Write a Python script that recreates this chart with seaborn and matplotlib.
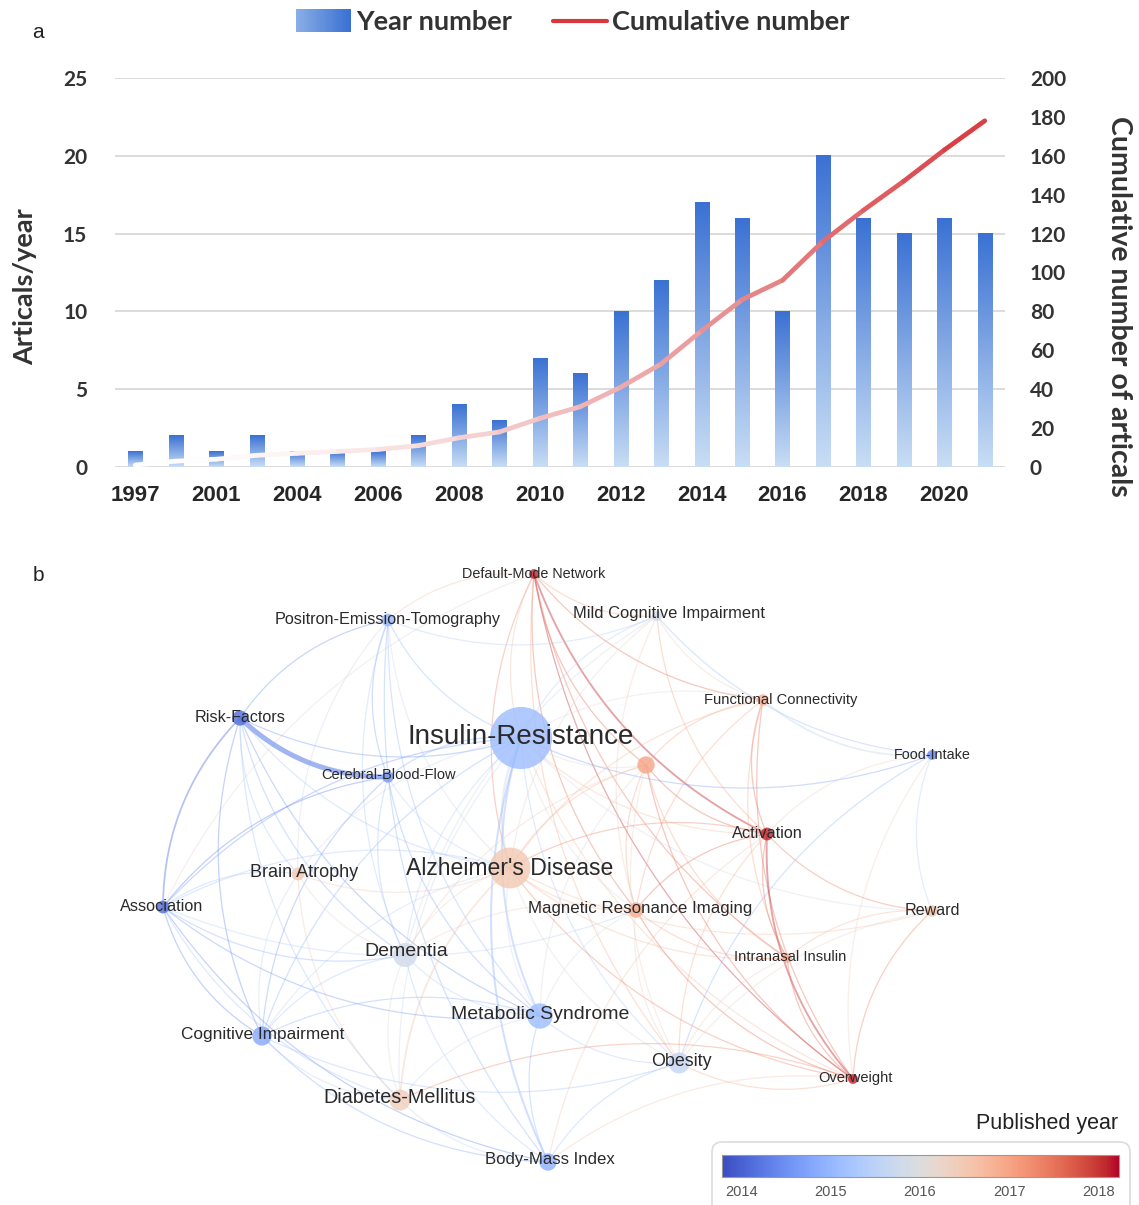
import numpy as np
import pandas as pd
import matplotlib
matplotlib.use("Agg")
import matplotlib.pyplot as plt
import seaborn as sns
from matplotlib.collections import LineCollection
from matplotlib.colors import LinearSegmentedColormap, Normalize, to_rgb
from matplotlib.legend_handler import HandlerBase
from matplotlib.lines import Line2D
from matplotlib.patches import Rectangle, FancyBboxPatch
import matplotlib.cm as cm

# ---------------- panel a: publications per year ----------------
years = ["1997", "1999", "2001", "2003", "2004", "2005", "2006", "2007", "2008",
         "2009", "2010", "2011", "2012", "2013", "2014", "2015", "2016", "2017",
         "2018", "2019", "2020", "2021"]
articles_per_year = [1, 2, 1, 2, 1, 1, 1, 2, 4, 3, 7, 6, 10, 12, 17, 16, 10, 20,
                     16, 15, 16, 15]
cumulative_articles = [1, 3, 4, 6, 7, 8, 9, 11, 15, 18, 25, 31, 41, 53, 70, 86,
                       96, 116, 132, 147, 163, 178]
left_ticks = [0, 5, 10, 15, 20, 25]
right_ticks = [0, 20, 40, 60, 80, 100, 120, 140, 160, 180, 200]

# ---------------- panel b: keyword co-occurrence network ----------------
keywords = ["Default-Mode Network", "Positron-Emission-Tomography",
            "Mild Cognitive Impairment", "Functional Connectivity", "Risk-Factors",
            "Insulin-Resistance", "", "Food-Intake", "Cerebral-Blood-Flow",
            "Activation", "Brain Atrophy", "Alzheimer's Disease", "Association",
            "Magnetic Resonance Imaging", "Reward", "Dementia", "Intranasal Insulin",
            "Metabolic Syndrome", "Cognitive Impairment", "Obesity", "Overweight",
            "Diabetes-Mellitus", "Body-Mass Index"]
layout_x = [534, 388, 657, 763, 240, 521, 646, 932, 388, 767, 298, 510, 163, 636,
            932, 405, 787, 540, 262, 679, 853, 400, 548]
layout_y = [574, 620, 616, 700, 718, 738, 765, 755, 777, 834, 874, 868, 907, 910,
            911, 955, 958, 1016, 1036, 1063, 1079, 1100, 1162]
avg_pub_year = [2018.1, 2015.0, 2015.8, 2016.9, 2014.1, 2015.1, 2017.0, 2014.4,
                2014.6, 2018.1, 2016.5, 2016.5, 2014.1, 2016.9, 2016.6, 2015.8,
                2016.9, 2015.1, 2014.8, 2015.6, 2018.1, 2016.4, 2014.9]
occurrences = [5, 6, 5, 5.5, 7, 60, 8, 5, 5.5, 6, 6, 28, 6, 7, 5.5, 12, 5, 13, 9,
               10, 5, 10, 8]
label_size = [10.4, 11.7, 11.9, 10.6, 11.6, 20.0, 10, 10.4, 10.5, 11.7, 13.0, 16.6,
              11.7, 12.2, 11.6, 14.0, 10.6, 14.0, 12.4, 12.9, 10.5, 14.2, 12.1]
label_dx = [0, 0, 12, 18, 0, 0, 0, 0, 1, 0, 6, 0, -1, 4, 0, 1, 3, 0, 1, 2, 2, 0, 2]
label_dy = [0, 0, -2, 0, 0, -1, 0, 0, -2, 0, -1, 1, 0, -1, 0, -3, -1, -1, -1, -1, -1, -2, -2]

edges = [
    (0, 9), (0, 3), (0, 11), (0, 13), (0, 20), (0, 16), (0, 5), (0, 1), (0, 2),
    (0, 6), (0, 19), (0, 12),
    (1, 5), (1, 8), (1, 15), (1, 11), (1, 17), (1, 4), (1, 10), (1, 2), (1, 22),
    (2, 5), (2, 11), (2, 7), (2, 3), (2, 13), (2, 15), (2, 9),
    (3, 7), (3, 9), (3, 6), (3, 5), (3, 13), (3, 11), (3, 16), (3, 20),
    (4, 8), (4, 12), (4, 5), (4, 15), (4, 18), (4, 17), (4, 11), (4, 21), (4, 10),
    (5, 11), (5, 17), (5, 22), (5, 15), (5, 12), (5, 18), (5, 19), (5, 6), (5, 9),
    (5, 13), (5, 8), (5, 21), (5, 20), (5, 14), (5, 10), (5, 7),
    (6, 11), (6, 13), (6, 9), (6, 16), (6, 19), (6, 20), (6, 15), (6, 17),
    (7, 14), (7, 20), (7, 19), (7, 9),
    (8, 11), (8, 15), (8, 12), (8, 17), (8, 18),
    (9, 11), (9, 14), (9, 20), (9, 19), (9, 16), (9, 13), (9, 22),
    (10, 11), (10, 15), (10, 12), (10, 18), (10, 21),
    (11, 13), (11, 15), (11, 17), (11, 21), (11, 18), (11, 19), (11, 16), (11, 12),
    (11, 20), (11, 14),
    (12, 18), (12, 15), (12, 17), (12, 22), (12, 21), (12, 13),
    (13, 16), (13, 19), (13, 20), (13, 15), (13, 17),
    (14, 20), (14, 16), (14, 19),
    (15, 18), (15, 21), (15, 17), (15, 22),
    (16, 20), (16, 19),
    (17, 22), (17, 19), (17, 18), (17, 21),
    (18, 21), (18, 22), (18, 19),
    (19, 20), (19, 22),
    (20, 22), (20, 21),
    (21, 22),
]
edge_strength = {(4, 8): 4.0, (5, 11): 1.8, (5, 17): 1.6, (5, 22): 1.6, (0, 9): 1.5,
                 (9, 20): 1.5, (4, 12): 1.4, (3, 7): 1.4, (11, 21): 1.5}

year_norm = Normalize(vmin=2013.78, vmax=2018.23)
year_cmap = plt.get_cmap("coolwarm")

# ---------------- figure ----------------
sns.set_theme(style="white")
plt.rcParams["font.family"] = ["Liberation Sans", "DejaVu Sans"]
W, H = 1139, 1205
fig = plt.figure(figsize=(W / 100, H / 100), dpi=100)

bold_font = {"family": ["Lato", "DejaVu Sans"], "weight": "bold"}

ax = fig.add_axes([115 / W, 1 - 467 / H, 890 / W, 389 / H])
trend = pd.DataFrame({"year": years, "articles": articles_per_year})
sns.barplot(data=trend, x="year", y="articles", ax=ax, width=0.35,
            color="#4a80d8", saturation=1)

bar_cmap = LinearSegmentedColormap.from_list("bar_fade", ["#c9def5", "#3a71d3"])
gradient = np.linspace(0, 1, 256).reshape(-1, 1)
for patch in list(ax.patches):
    x0, w, h = patch.get_x(), patch.get_width(), patch.get_height()
    ax.imshow(gradient, extent=[x0, x0 + w, 0, h], origin="lower", aspect="auto",
              cmap=bar_cmap, zorder=2, interpolation="bilinear")
    patch.set_visible(False)

ax.set_xlim(-0.5, len(years) - 0.5)
ax.set_ylim(0, 25)
ax.set_yticks(left_ticks)
ax.set_yticklabels([str(t) for t in left_ticks], fontdict=bold_font, fontsize=15,
                   color="#333333")
ax.set_xticks(range(len(years)))
ax.set_xticklabels([y if i % 2 == 0 else "" for i, y in enumerate(years)],
                   fontsize=16, fontweight="bold", color="#262626")
ax.tick_params(axis="x", length=0, pad=13)
ax.tick_params(axis="y", length=0, pad=20)
ax.yaxis.grid(True, color="#d9d9d9", lw=1.3)
ax.xaxis.grid(False)
ax.set_axisbelow(True)
for s in ax.spines.values():
    s.set_visible(False)
ax.set_xlabel("")
ax.set_ylabel("Articals/year", fontdict=bold_font, fontsize=19.5, color="#333333",
              va="center")
ax.yaxis.set_label_coords((25 - 115) / 890, (467 - 287) / 389)

ax2 = ax.twinx()
ax2.set_ylim(0, 200)
ax2.set_yticks(right_ticks)
ax2.set_yticklabels([str(t) for t in right_ticks], fontdict=bold_font, fontsize=15,
                    color="#333333")
ax2.tick_params(axis="y", length=0, pad=18)
ax2.grid(False)
for s in ax2.spines.values():
    s.set_visible(False)
ax2.set_ylabel("Cumulative number of articals", fontdict=bold_font, fontsize=20.5,
               color="#333333", rotation=270, va="center")
ax2.yaxis.set_label_coords((1119 - 115) / 890, (467 - 306) / 389)

xs = np.arange(len(years))
pts = np.column_stack([xs, cumulative_articles]).reshape(-1, 1, 2)
segs = np.concatenate([pts[:-1], pts[1:]], axis=1)
line_red = np.array(to_rgb("#d6383d"))
seg_colors = []
for k in range(len(segs)):
    f = ((k + 0.5) / len(segs)) ** 1.6
    seg_colors.append((1 - f) * np.ones(3) + f * line_red)
trend_line = LineCollection(segs, colors=seg_colors, linewidths=3.4,
                            capstyle="round", joinstyle="round", zorder=3)
ax2.add_collection(trend_line)


class GradientPatchHandler(HandlerBase):
    def create_artists(self, legend, orig_handle, xdescent, ydescent, width,
                       height, fontsize, trans):
        n = 30
        pieces = []
        for k in range(n):
            c = bar_cmap(0.45 + 0.55 * k / (n - 1))
            pieces.append(Rectangle((-xdescent + width * k / n, -ydescent - height * 0.1),
                                    width / n * 1.1, height * 1.2, facecolor=c,
                                    edgecolor="none", transform=trans))
        return pieces


bar_handle = Rectangle((0, 0), 1, 1)
line_handle = Line2D([0], [0], color="#d6383d", lw=3)
fig.legend([bar_handle, line_handle], ["Year number", "Cumulative number"],
           handler_map={bar_handle: GradientPatchHandler()},
           loc="center", bbox_to_anchor=(573 / W, 1 - 22 / H), ncol=2,
           frameon=False, prop={"family": ["Lato", "DejaVu Sans"], "weight": "bold",
                                "size": 19.5},
           handlelength=2.0, handletextpad=0.2, columnspacing=1.5)
for t in fig.legends[0].get_texts():
    t.set_color("#333333")

fig.text(38 / W, 1 - 33 / H, "a", fontsize=15, ha="center", va="center", color="#222222")
fig.text(38 / W, 1 - 575 / H, "b", fontsize=15, ha="center", va="center", color="#222222")

# ---------------- network ----------------
axn = fig.add_axes([0, 0, 1, 665 / H])


def curved_edge(p, q, bend=0.2, n=40):
    p = np.asarray(p, float)
    q = np.asarray(q, float)
    d = q - p
    ctrl = (p + q) / 2 + bend * np.array([-d[1], d[0]])
    t = np.linspace(0, 1, n)[:, None]
    return (1 - t) ** 2 * p + 2 * (1 - t) * t * ctrl + t ** 2 * q


edge_paths, edge_colors, edge_widths = [], [], []
for a, b in edges:
    pa = (layout_x[a], layout_y[a])
    pb = (layout_x[b], layout_y[b])
    edge_paths.append(curved_edge(pa, pb, 0.2))
    yr = 0.5 * (avg_pub_year[a] + avg_pub_year[b])
    r, g, bl, _ = year_cmap(year_norm(yr))
    strength = edge_strength.get((a, b), 1.0)
    edge_colors.append((r, g, bl, min(0.3 + 0.08 * strength, 0.6)))
    edge_widths.append(0.9 * strength)
axn.add_collection(LineCollection(edge_paths, colors=edge_colors,
                                  linewidths=edge_widths, zorder=1))

nodes = pd.DataFrame({"keyword": keywords, "x": layout_x, "y": layout_y,
                      "year": avg_pub_year, "occurrences": occurrences})
sns.scatterplot(data=nodes, x="x", y="y", hue="year", hue_norm=year_norm,
                palette="coolwarm", size="occurrences", sizes=(50, 2000),
                size_norm=(5, 60), alpha=0.8, linewidth=0, legend=False,
                ax=axn, zorder=3)
axn.set_xlim(0, W)
axn.set_ylim(H, 540)
axn.axis("off")

for i, name in enumerate(keywords):
    if name:
        axn.text(layout_x[i] + label_dx[i], layout_y[i] + label_dy[i], name,
                 fontsize=label_size[i], ha="center", va="center",
                 color="#2a2a2a", zorder=4)

# colour legend
axn.add_patch(FancyBboxPatch((712, 1142), 418, 80,
                             boxstyle="round,pad=0,rounding_size=10",
                             facecolor="none", edgecolor="#dcdcdc", lw=1.2, zorder=2))
axn.text(1118, 1124, "Published year", fontsize=15.5, ha="right", va="center",
         color="#222222")
cax = fig.add_axes([722 / W, 1 - 1177 / H, 397 / W, 22 / H])
cb = fig.colorbar(cm.ScalarMappable(norm=year_norm, cmap=year_cmap), cax=cax,
                  orientation="horizontal")
cb.set_ticks([2014, 2015, 2016, 2017, 2018])
cb.set_ticklabels(["2014", "2015", "2016", "2017", "2018"])
cax.tick_params(axis="x", direction="in", length=8, width=1, color="#777777",
                labelsize=10.5, labelcolor="#555555", pad=6)
cb.outline.set_edgecolor("#999999")
cb.outline.set_linewidth(0.8)

fig.savefig("out.png", dpi=100)
